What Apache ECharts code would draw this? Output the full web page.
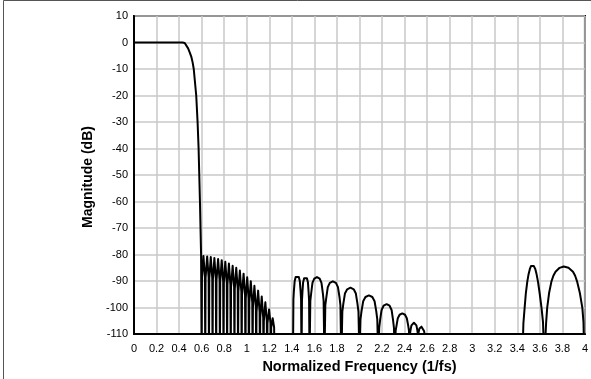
<!DOCTYPE html>
<html>
<head>
<meta charset="utf-8">
<script src="https://cdn.jsdelivr.net/npm/echarts@6/dist/echarts.min.js"></script>
<style>
  html, body { margin: 0; padding: 0; background: #fff; }
  #chart { width: 591px; height: 379px; }
</style>
</head>
<body>
<div id="chart"></div>
<script>
// Magnitude response of the filter, [normalized frequency, dB].
// Notches and the deep stopband lie below the plotted range (-120 here),
// so the curve simply drops out through the -110 dB floor.

// Passband and transition band
const mainLobe = [
  [0.000, 0], [0.430, 0], [0.450, -0.2], [0.465, -0.8], [0.480, -2.2],
  [0.495, -3.8], [0.508, -5.3], [0.520, -7.5], [0.530, -10], [0.552, -20],
  [0.564, -30], [0.573, -40], [0.579, -50], [0.585, -60], [0.590, -70],
  [0.595, -80], [0.600, -120]
];

// Dense stopband ripple just past the band edge
const nearLobes = [
  [0.600, -120], [0.603, -88.5], [0.616, -80.5], [0.629, -88.5],
  [0.632, -120], [0.635, -88.7], [0.649, -80.7], [0.662, -88.7],
  [0.665, -120], [0.668, -88.9], [0.681, -80.9], [0.694, -88.9],
  [0.697, -120], [0.700, -89.3], [0.713, -81.3], [0.726, -89.3],
  [0.729, -120], [0.732, -89.7], [0.746, -81.7], [0.759, -89.7],
  [0.762, -120], [0.765, -90.1], [0.778, -82.1], [0.791, -90.1],
  [0.794, -120], [0.797, -90.7], [0.810, -82.7], [0.823, -90.7],
  [0.826, -120], [0.829, -91.4], [0.842, -83.4], [0.855, -91.4],
  [0.858, -120], [0.861, -92.2], [0.875, -84.2], [0.888, -92.2],
  [0.891, -120], [0.894, -93.0], [0.907, -85.0], [0.920, -93.0],
  [0.923, -120], [0.926, -94.0], [0.939, -86.0], [0.952, -94.0],
  [0.955, -120], [0.958, -95.2], [0.972, -87.2], [0.985, -95.2],
  [0.988, -120], [0.991, -96.6], [1.004, -88.6], [1.017, -96.6],
  [1.020, -120], [1.023, -98.1], [1.036, -90.1], [1.049, -98.1],
  [1.052, -120], [1.055, -99.8], [1.068, -91.8], [1.081, -99.8],
  [1.084, -120], [1.087, -101.6], [1.101, -93.6], [1.114, -101.6],
  [1.117, -120], [1.120, -103.8], [1.133, -95.8], [1.146, -103.8],
  [1.149, -120], [1.152, -105.0], [1.165, -98.0], [1.178, -105.0],
  [1.181, -120], [1.184, -106.0], [1.198, -100.7], [1.211, -106.0],
  [1.214, -120], [1.217, -107.5], [1.230, -104.0], [1.243, -107.5],
  [1.246, -120]
];

// First image band
const midLobes = [
  [1.410, -120], [1.414, -96.9], [1.418, -93.9], [1.425, -90.1], [1.434, -88.5], [1.448, -87.9],
  [1.462, -88.5], [1.471, -90.1], [1.478, -93.9], [1.482, -96.9],
  [1.486, -120], [1.490, -97.3], [1.494, -94.3], [1.500, -90.5], [1.509, -88.9], [1.522, -88.3],
  [1.534, -88.9], [1.543, -90.5], [1.549, -94.3], [1.553, -97.3],
  [1.557, -120], [1.564, -97.5], [1.572, -94.5], [1.583, -90.7], [1.599, -89.1], [1.623, -88.5],
  [1.647, -89.1], [1.663, -90.7], [1.675, -94.5], [1.682, -97.5],
  [1.689, -120], [1.697, -99.1], [1.706, -96.1], [1.719, -92.3], [1.737, -90.7], [1.764, -90.1],
  [1.791, -90.7], [1.809, -92.3], [1.823, -96.1], [1.831, -99.1],
  [1.839, -120], [1.848, -101.5], [1.857, -98.5], [1.871, -94.7], [1.891, -93.1], [1.920, -92.5],
  [1.949, -93.1], [1.968, -94.7], [1.982, -98.5], [1.991, -101.5],
  [2.000, -120], [2.009, -104.4], [2.018, -101.4], [2.033, -97.6], [2.053, -96.0], [2.084, -95.4],
  [2.114, -96.0], [2.134, -97.6], [2.149, -101.4], [2.158, -104.4],
  [2.167, -120], [2.175, -107.7], [2.183, -104.7], [2.196, -100.9], [2.214, -99.3], [2.241, -98.7],
  [2.267, -99.3], [2.285, -100.9], [2.298, -104.7], [2.306, -107.7],
  [2.314, -120], [2.321, -108.7], [2.329, -106.7], [2.340, -104.0], [2.356, -102.7], [2.380, -102.2],
  [2.404, -102.7], [2.420, -104.0], [2.432, -106.7], [2.439, -108.7],
  [2.446, -120], [2.450, -109.3], [2.454, -108.2], [2.461, -106.7], [2.470, -106.0], [2.483, -105.7],
  [2.496, -106.0], [2.505, -106.7], [2.512, -108.2], [2.516, -109.3],
  [2.520, -120], [2.523, -109.6], [2.527, -108.8], [2.532, -107.9], [2.539, -107.4], [2.550, -107.2],
  [2.560, -107.4], [2.567, -107.9], [2.573, -108.8], [2.576, -109.6],
  [2.579, -120]
];

// Second image band near 4/fs
const farLobes = [
  [3.445, -120], [3.454, -106.0], [3.465, -100.1], [3.476, -94.5], [3.489, -90.1], [3.500, -87.4],
  [3.511, -85.5], [3.522, -84.3], [3.533, -83.8], [3.546, -84.3], [3.560, -85.5], [3.570, -87.2],
  [3.583, -90.1], [3.598, -94.5], [3.615, -100.1], [3.628, -105.5], [3.639, -120],
  [3.650, -120], [3.656, -105.5], [3.665, -100.1], [3.682, -94.5], [3.703, -90.1], [3.720, -88.0],
  [3.739, -86.5], [3.775, -85.0], [3.812, -84.5], [3.854, -85.0], [3.894, -86.5], [3.913, -88.0],
  [3.930, -90.1], [3.955, -94.5], [3.977, -100.1], [3.987, -105.5], [3.994, -120],
  [4.000, -120]
];

const xLabel = 'Normalized Frequency (1/fs)';
const yLabel = 'Magnitude (dB)';

const response = mainLobe.concat(nearLobes, midLobes, farLobes);

const fontFamily = '"Liberation Sans", Arial, Helvetica, sans-serif';
const chart = echarts.init(document.getElementById('chart'), null, { renderer: 'canvas' });

chart.setOption({
  animation: false,
  backgroundColor: '#fff',
  grid: {
    left: 134, top: 16, width: 455, height: 322,
    show: true, borderColor: '#000', borderWidth: 2, backgroundColor: 'transparent'
  },
  xAxis: {
    type: 'value', min: 0, max: 4, interval: 0.2,
    name: xLabel, nameLocation: 'middle', nameGap: 21,
    nameTextStyle: { fontFamily, fontSize: 14.5, fontWeight: 'bold', color: '#000' },
    axisLine: { show: true, onZero: false, lineStyle: { color: '#000', width: 2 } },
    axisTick: { show: false },
    axisLabel: { fontFamily, fontSize: 11, color: '#000', margin: 9 },
    splitLine: { show: true, lineStyle: { color: '#c8c8c8', width: 1.5 } }
  },
  yAxis: {
    type: 'value', min: -110, max: 10, interval: 10,
    axisLine: { show: true, onZero: false, lineStyle: { color: '#000', width: 2 } },
    axisTick: { show: false },
    axisLabel: { fontFamily, fontSize: 11, color: '#000', margin: 6 },
    splitLine: { show: true, lineStyle: { color: '#c8c8c8', width: 1.5 } }
  },
  series: [{
    type: 'line',
    data: response,
    showSymbol: false,
    clip: true,
    lineStyle: { color: '#000', width: 2, join: 'round' }
  }],
  graphic: [{
    type: 'polyline',
    shape: { points: [[3.5, 379], [3.5, 0.5], [591, 0.5]] },
    style: { stroke: '#555', lineWidth: 1, fill: null },
    silent: true
  }, {
    // vertical axis title
    type: 'text',
    x: 88, y: 177, rotation: Math.PI / 2,
    style: {
      text: yLabel, fontFamily, fontSize: 14, fontWeight: 'bold', fill: '#000',
      align: 'center', verticalAlign: 'middle'
    },
    silent: true
  }]
});
</script>
</body>
</html>
